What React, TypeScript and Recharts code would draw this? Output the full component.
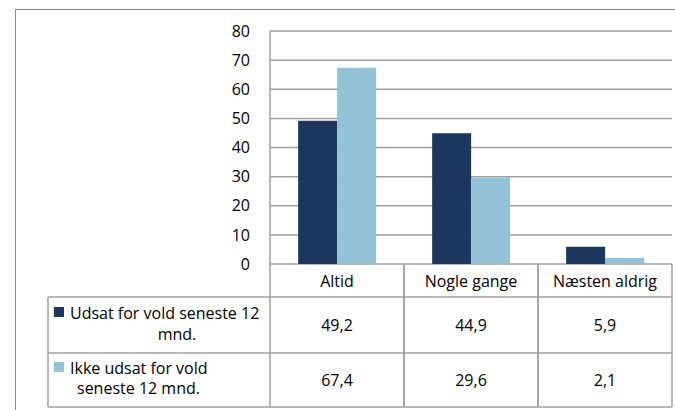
import React from 'react';
import { BarChart, Bar, XAxis, YAxis, CartesianGrid } from 'recharts';

const categories = ['Altid', 'Nogle gange', 'Næsten aldrig'];
const exposed = [49.2, 44.9, 5.9];
const notExposed = [67.4, 29.6, 2.1];
const yTicks = [0, 10, 20, 30, 40, 50, 60, 70, 80];
const legendLines = [
  ['Udsat for vold seneste 12', 'mnd.'],
  ['Ikke udsat for vold', 'seneste 12 mnd.'],
];
const seriesColors = ['#1B375E', '#93C3D6'];

const data = categories.map((c, i) => ({ name: c, a: exposed[i], b: notExposed[i] }));
const seriesValues = [exposed, notExposed];

const FONT = '"Open Sans", sans-serif';
const FS = 16;
const LINE = '#a0a0a0';
const ROW0 = 33;
const ROW1 = 56;
const ROW2 = 54;
const LEGEND_W = 222;

const fmt = (v: number) => v.toFixed(1).replace('.', ',');

const TableTick = (props: any) => {
  const { x, y, payload, index } = props;
  const half = payload && payload.offset ? payload.offset : 67;
  const left = x - half;
  const right = x + half;
  const top = y;
  const r1 = top + ROW0;
  const r2 = r1 + ROW1;
  const bottom = r2 + ROW2;
  const els: any[] = [];
  els.push(<line key="l" x1={left} y1={top} x2={left} y2={bottom} stroke={LINE} strokeWidth={1.5} />);
  els.push(<line key="r" x1={right} y1={top} x2={right} y2={bottom} stroke={LINE} strokeWidth={1.5} />);
  els.push(<line key="h1" x1={left} y1={r1} x2={right} y2={r1} stroke={LINE} strokeWidth={1.5} />);
  els.push(<line key="h2" x1={left} y1={r2} x2={right} y2={r2} stroke={LINE} strokeWidth={1.5} />);
  els.push(<line key="h3" x1={left} y1={bottom} x2={right} y2={bottom} stroke={LINE} strokeWidth={1.5} />);
  els.push(
    <text key="c" x={x} y={top + ROW0 / 2} textAnchor="middle" dominantBaseline="central" fontFamily={FONT} fontSize={FS} fill="#000">
      {payload.value}
    </text>
  );
  const rowCenters = [r1 + ROW1 / 2, r2 + ROW2 / 2];
  seriesValues.forEach((vals, si) => {
    els.push(
      <text key={'v' + si} x={x} y={rowCenters[si]} textAnchor="middle" dominantBaseline="central" fontFamily={FONT} fontSize={FS} fill="#000">
        {fmt(vals[index])}
      </text>
    );
  });
  if (index === 0) {
    const L = left - LEGEND_W;
    els.push(<line key="ll" x1={L} y1={r1} x2={L} y2={bottom} stroke={LINE} strokeWidth={1.5} />);
    els.push(<line key="lh1" x1={L} y1={r1} x2={left} y2={r1} stroke={LINE} strokeWidth={1.5} />);
    els.push(<line key="lh2" x1={L} y1={r2} x2={left} y2={r2} stroke={LINE} strokeWidth={1.5} />);
    els.push(<line key="lh3" x1={L} y1={bottom} x2={left} y2={bottom} stroke={LINE} strokeWidth={1.5} />);
    // row 1 legend
    els.push(<rect key="s1" x={L + 6} y={r1 + 10} width={10} height={10} fill={seriesColors[0]} />);
    els.push(
      <text key="t1a" x={L + 22} y={r1 + 16} dominantBaseline="central" fontFamily={FONT} fontSize={FS} fill="#000">
        {legendLines[0][0]}
      </text>
    );
    els.push(
      <text key="t1b" x={L + 129} y={r1 + 37} textAnchor="middle" dominantBaseline="central" fontFamily={FONT} fontSize={FS} fill="#000">
        {legendLines[0][1]}
      </text>
    );
    // row 2 legend
    els.push(<rect key="s2" x={L + 6} y={r2 + 9} width={10} height={10} fill={seriesColors[1]} />);
    els.push(
      <text key="t2a" x={L + 22} y={r2 + 15} dominantBaseline="central" fontFamily={FONT} fontSize={FS} fill="#000">
        {legendLines[1][0]}
      </text>
    );
    els.push(
      <text key="t2b" x={L + 29} y={r2 + 35} dominantBaseline="central" fontFamily={FONT} fontSize={FS} fill="#000">
        {legendLines[1][1]}
      </text>
    );
  }
  return <g>{els}</g>;
};

export default function App() {
  return (
    <div style={{ position: 'absolute', left: 0, top: 0, width: 675, height: 410, overflow: 'hidden', background: '#fff' }}>
      <div
        style={{
          position: 'absolute',
          left: 15,
          top: 9,
          width: 700,
          height: 500,
          borderLeft: '1.5px solid #8c8c8c',
          borderTop: '1.5px solid #8c8c8c',
        }}
      />
      <div style={{ position: 'absolute', left: 0, top: 0 }}>
        <BarChart
          width={675}
          height={410}
          data={data}
          margin={{ top: 31, right: 3, bottom: 0, left: 0 }}
          barGap={0}
          barCategoryGap="21%"
        >
          <CartesianGrid vertical={false} stroke={LINE} strokeWidth={1.5} />
          <XAxis
            dataKey="name"
            height={146}
            axisLine={false}
            tickLine={false}
            tickSize={0}
            tickMargin={0}
            interval={0}
            tick={<TableTick />}
          />
          <YAxis
            width={270}
            domain={[0, 80]}
            ticks={yTicks}
            interval={0}
            axisLine={{ stroke: LINE, strokeWidth: 1.5 }}
            tickLine={false}
            tickMargin={14}
            tick={{ fontFamily: FONT, fontSize: FS, fill: '#000' }}
          />
          <Bar dataKey="a" fill={seriesColors[0]} isAnimationActive={false} />
          <Bar dataKey="b" fill={seriesColors[1]} isAnimationActive={false} />
        </BarChart>
      </div>
    </div>
  );
}
